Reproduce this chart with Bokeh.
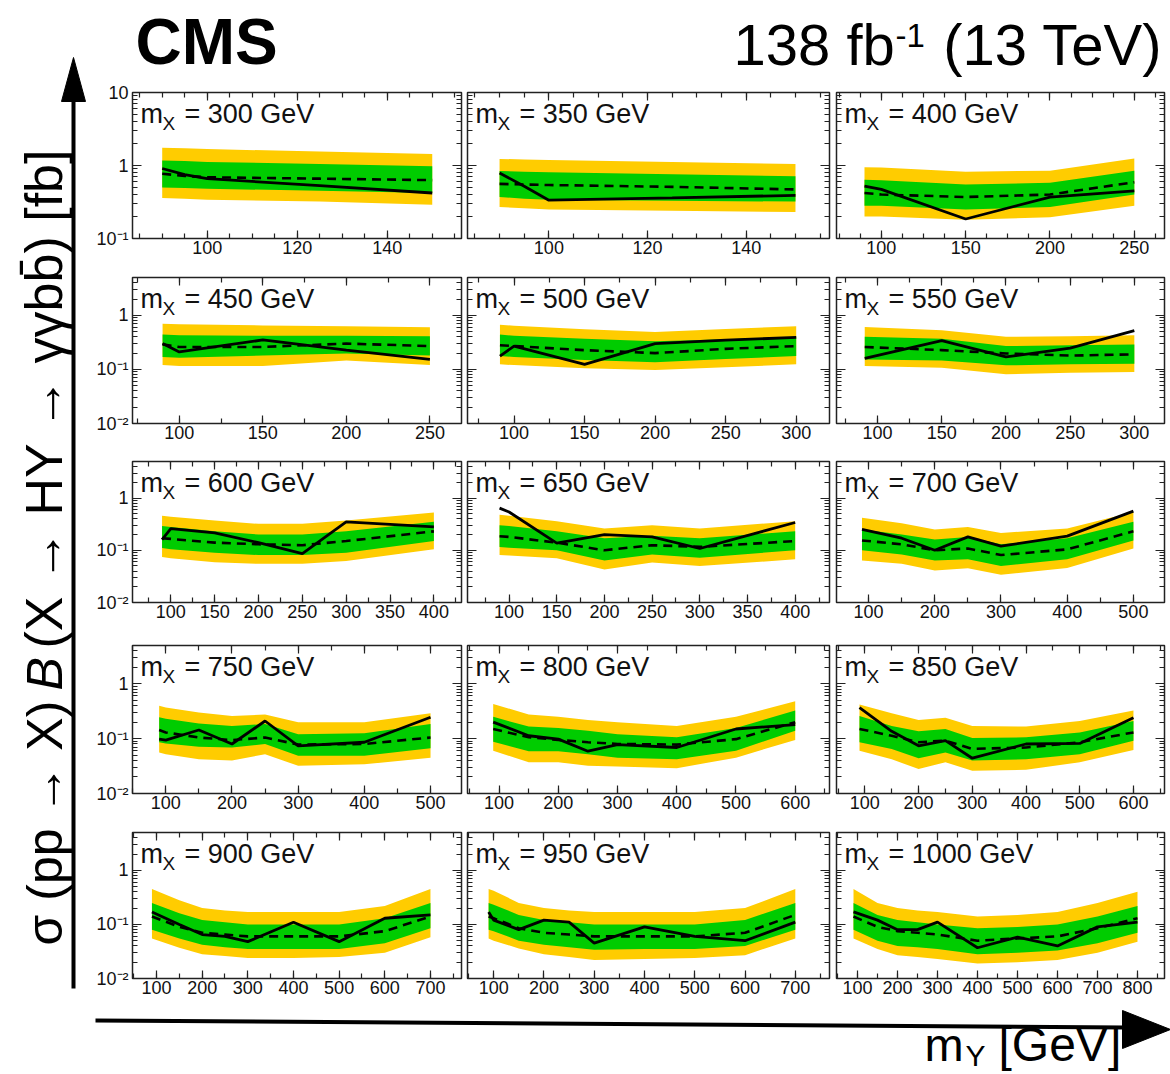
import math
from bokeh.plotting import figure
from bokeh.layouts import row, column
from bokeh.models import Range1d, FixedTicker, LinearAxis, LogAxis
from bokeh.core.properties import value
from bokeh.embed import file_html
from bokeh.resources import INLINE

# ---------------------------------------------------------------------------
# 95% CL upper limits on sigma(pp->X) B(X->HY->gg bb) [fb] versus m_Y [GeV]
# obs: observed, exp: median expected, lo1/hi1: +-1 sigma, lo2/hi2: +-2 sigma
# ---------------------------------------------------------------------------
mx_values = [300, 350, 400, 450, 500, 550, 600, 650, 700, 750, 800, 850, 900, 950, 1000]

my_300 = [90, 95, 100, 125, 150]
obs_300 = [0.91, 0.75, 0.66, 0.53, 0.42]
exp_300 = [0.77, 0.72, 0.69, 0.66, 0.63]
lo1_300 = [0.50, 0.49, 0.48, 0.45, 0.42]
hi1_300 = [1.17, 1.15, 1.12, 1.05, 0.98]
lo2_300 = [0.36, 0.35, 0.34, 0.32, 0.29]
hi2_300 = [1.75, 1.72, 1.68, 1.55, 1.44]

my_350 = [90, 95, 100, 125, 150]
obs_350 = [0.79, 0.52, 0.335, 0.36, 0.39]
exp_350 = [0.56, 0.55, 0.54, 0.51, 0.47]
lo1_350 = [0.37, 0.35, 0.34, 0.33, 0.32]
hi1_350 = [0.84, 0.82, 0.81, 0.76, 0.71]
lo2_350 = [0.27, 0.26, 0.25, 0.24, 0.23]
hi2_350 = [1.23, 1.21, 1.19, 1.12, 1.05]

my_400 = [90, 100, 150, 200, 250]
obs_400 = [0.52, 0.47, 0.185, 0.37, 0.45]
exp_400 = [0.42, 0.40, 0.37, 0.40, 0.59]
lo1_400 = [0.28, 0.28, 0.25, 0.27, 0.40]
hi1_400 = [0.64, 0.63, 0.55, 0.58, 0.85]
lo2_400 = [0.20, 0.20, 0.18, 0.195, 0.28]
hi2_400 = [0.95, 0.94, 0.82, 0.85, 1.25]

my_450 = [90, 100, 150, 200, 250]
obs_450 = [0.30, 0.21, 0.35, 0.227, 0.153]
exp_450 = [0.29, 0.26, 0.26, 0.30, 0.27]
lo1_450 = [0.17, 0.165, 0.18, 0.197, 0.18]
hi1_450 = [0.44, 0.43, 0.42, 0.42, 0.41]
lo2_450 = [0.12, 0.115, 0.115, 0.146, 0.12]
hi2_450 = [0.70, 0.68, 0.65, 0.63, 0.60]

my_500 = [90, 100, 150, 200, 250, 300]
obs_500 = [0.176, 0.27, 0.124, 0.30, 0.347, 0.39]
exp_500 = [0.28, 0.27, 0.227, 0.20, 0.24, 0.27]
lo1_500 = [0.176, 0.17, 0.15, 0.136, 0.155, 0.176]
hi1_500 = [0.44, 0.42, 0.37, 0.33, 0.36, 0.40]
lo2_500 = [0.124, 0.12, 0.105, 0.097, 0.11, 0.124]
hi2_500 = [0.67, 0.64, 0.55, 0.49, 0.56, 0.63]

my_550 = [90, 150, 200, 250, 300]
obs_550 = [0.16, 0.34, 0.17, 0.247, 0.52]
exp_550 = [0.26, 0.227, 0.197, 0.18, 0.19]
lo1_550 = [0.153, 0.146, 0.119, 0.124, 0.127]
hi1_550 = [0.40, 0.37, 0.27, 0.28, 0.29]
lo2_550 = [0.115, 0.107, 0.081, 0.087, 0.09]
hi2_550 = [0.61, 0.53, 0.40, 0.41, 0.43]

my_600 = [90, 100, 150, 200, 250, 300, 400]
obs_600 = [0.16, 0.26, 0.215, 0.14, 0.086, 0.35, 0.28]
exp_600 = [0.17, 0.165, 0.14, 0.13, 0.125, 0.15, 0.23]
lo1_600 = [0.11, 0.105, 0.09, 0.081, 0.081, 0.09, 0.15]
hi1_600 = [0.29, 0.28, 0.23, 0.20, 0.20, 0.23, 0.35]
lo2_600 = [0.074, 0.07, 0.059, 0.055, 0.055, 0.062, 0.104]
hi2_600 = [0.46, 0.44, 0.37, 0.32, 0.32, 0.37, 0.53]

my_650 = [90, 100, 150, 200, 250, 300, 400]
obs_650 = [0.64, 0.54, 0.137, 0.20, 0.18, 0.108, 0.34]
exp_650 = [0.186, 0.18, 0.14, 0.10, 0.125, 0.116, 0.15]
lo1_650 = [0.115, 0.112, 0.10, 0.064, 0.083, 0.072, 0.10]
hi1_650 = [0.30, 0.29, 0.23, 0.17, 0.19, 0.17, 0.23]
lo2_650 = [0.081, 0.079, 0.07, 0.043, 0.058, 0.05, 0.067]
hi2_650 = [0.48, 0.46, 0.36, 0.26, 0.30, 0.26, 0.36]

my_700 = [90, 150, 200, 250, 300, 400, 500]
obs_700 = [0.25, 0.17, 0.10, 0.18, 0.12, 0.186, 0.56]
exp_700 = [0.154, 0.13, 0.10, 0.108, 0.081, 0.104, 0.23]
lo1_700 = [0.10, 0.083, 0.064, 0.067, 0.05, 0.067, 0.154]
hi1_700 = [0.25, 0.20, 0.16, 0.18, 0.13, 0.17, 0.35]
lo2_700 = [0.064, 0.055, 0.041, 0.045, 0.034, 0.046, 0.108]
hi2_700 = [0.42, 0.33, 0.25, 0.28, 0.215, 0.26, 0.54]

my_750 = [90, 100, 150, 200, 250, 300, 400, 500]
obs_750 = [0.098, 0.094, 0.144, 0.08, 0.21, 0.074, 0.086, 0.246]
exp_750 = [0.144, 0.13, 0.105, 0.094, 0.105, 0.078, 0.08, 0.105]
lo1_750 = [0.086, 0.082, 0.071, 0.069, 0.08, 0.049, 0.049, 0.067]
hi1_750 = [0.246, 0.23, 0.19, 0.17, 0.185, 0.12, 0.125, 0.185]
lo2_750 = [0.056, 0.052, 0.042, 0.04, 0.052, 0.032, 0.034, 0.045]
hi2_750 = [0.40, 0.37, 0.30, 0.26, 0.275, 0.20, 0.20, 0.29]

my_800 = [90, 150, 200, 250, 300, 400, 500, 600]
obs_800 = [0.20, 0.113, 0.098, 0.059, 0.078, 0.069, 0.15, 0.18]
exp_800 = [0.15, 0.106, 0.095, 0.086, 0.08, 0.078, 0.098, 0.20]
lo1_800 = [0.088, 0.059, 0.059, 0.052, 0.045, 0.042, 0.06, 0.14]
hi1_800 = [0.25, 0.166, 0.157, 0.14, 0.12, 0.106, 0.157, 0.325]
lo2_800 = [0.06, 0.037, 0.037, 0.032, 0.031, 0.029, 0.045, 0.095]
hi2_800 = [0.43, 0.275, 0.25, 0.22, 0.20, 0.17, 0.25, 0.48]

my_850 = [90, 150, 200, 250, 300, 400, 500, 600]
obs_850 = [0.37, 0.136, 0.074, 0.092, 0.044, 0.08, 0.082, 0.24]
exp_850 = [0.15, 0.113, 0.086, 0.092, 0.065, 0.069, 0.086, 0.13]
lo1_850 = [0.086, 0.065, 0.044, 0.056, 0.04, 0.042, 0.052, 0.092]
hi1_850 = [0.26, 0.17, 0.136, 0.15, 0.103, 0.106, 0.13, 0.21]
lo2_850 = [0.06, 0.042, 0.028, 0.037, 0.026, 0.027, 0.037, 0.062]
hi2_850 = [0.42, 0.29, 0.22, 0.24, 0.17, 0.166, 0.21, 0.325]

my_900 = [90, 150, 200, 250, 300, 400, 500, 600, 700]
obs_900 = [0.17, 0.10, 0.065, 0.06, 0.048, 0.11, 0.048, 0.13, 0.15]
exp_900 = [0.14, 0.09, 0.07, 0.065, 0.06, 0.06, 0.06, 0.075, 0.14]
lo1_900 = [0.08, 0.055, 0.042, 0.038, 0.035, 0.035, 0.035, 0.045, 0.085]
hi1_900 = [0.25, 0.16, 0.12, 0.11, 0.10, 0.10, 0.10, 0.13, 0.25]
lo2_900 = [0.055, 0.037, 0.028, 0.026, 0.024, 0.024, 0.025, 0.03, 0.058]
hi2_900 = [0.45, 0.28, 0.20, 0.18, 0.17, 0.17, 0.17, 0.22, 0.45]

my_950 = [90, 100, 150, 200, 250, 300, 400, 500, 600, 700]
obs_950 = [0.17, 0.12, 0.08, 0.12, 0.11, 0.045, 0.09, 0.06, 0.05, 0.11]
exp_950 = [0.14, 0.13, 0.085, 0.07, 0.065, 0.06, 0.06, 0.06, 0.07, 0.15]
lo1_950 = [0.08, 0.075, 0.05, 0.042, 0.038, 0.034, 0.035, 0.035, 0.04, 0.08]
hi1_950 = [0.25, 0.23, 0.15, 0.12, 0.11, 0.10, 0.10, 0.10, 0.12, 0.25]
lo2_950 = [0.055, 0.05, 0.036, 0.028, 0.025, 0.022, 0.023, 0.024, 0.027, 0.055]
hi2_950 = [0.45, 0.42, 0.25, 0.20, 0.18, 0.17, 0.17, 0.17, 0.20, 0.45]

my_1000 = [90, 150, 200, 250, 300, 400, 500, 600, 700, 800]
obs_1000 = [0.17, 0.12, 0.08, 0.08, 0.11, 0.037, 0.058, 0.04, 0.09, 0.11]
exp_1000 = [0.14, 0.09, 0.075, 0.07, 0.065, 0.05, 0.055, 0.06, 0.085, 0.13]
lo1_1000 = [0.08, 0.05, 0.04, 0.038, 0.035, 0.028, 0.03, 0.033, 0.045, 0.07]
hi1_1000 = [0.25, 0.15, 0.12, 0.11, 0.10, 0.085, 0.09, 0.10, 0.14, 0.22]
lo2_1000 = [0.055, 0.035, 0.027, 0.025, 0.023, 0.019, 0.02, 0.022, 0.03, 0.048]
hi2_1000 = [0.45, 0.25, 0.20, 0.18, 0.17, 0.14, 0.15, 0.17, 0.25, 0.40]

# m_Y axis range and tick spacing (major, minor) of every panel
x_lo = [83.4, 83.5, 73.4, 72.0, 67.0, 68.0, 56.3, 56.4, 51.5, 49.7, 46.6, 47.2, 47.4, 48.0, 47.5]
x_hi = [156.5, 156.9, 267.9, 268.9, 323.6, 323.5, 431.5, 436.0, 547.0, 546.8, 657.9, 657.8, 768.0, 768.0, 867.5]
x_major = [20, 20, 50, 50, 50, 50, 50, 50, 100, 100, 100, 100, 100, 100, 100]
x_minor = [5, 5, 12.5, 25, 25, 25, 25, 25, 50, 50, 50, 50, 50, 50, 50]

# ---------------------------------------------------------------------------
FONT = "Liberation Sans"
GREEN = "#00cc00"
YELLOW = "#ffcc00"
INK = "#111111"
FRAME = "#222222"
LIFT = 0.36  # alphabetic-baseline correction, in units of the font size

LEFT_W = 86
HEADER_H = 80
BOTTOM_H = 70
COL_FRAME_W = [329, 362, 328]
COL_BORDER_L = [46, 3, 4]
COL_BORDER_R = [3, 3, 6]
ROW_FRAME_H = [146, 146, 141, 148, 146]
ROW_BORDER_T = [12, 9, 8, 8, 9]
ROW_BORDER_B = [30, 30, 35, 30, 26]

SUP = str.maketrans("-0123456789", "\u207b\u2070\u00b9\u00b2\u00b3\u2074\u2075\u2076\u2077\u2078\u2079")


def decade_label(e):
    if e == 0:
        return "1"
    if e == 1:
        return "10"
    return "10" + str(e).translate(SUP)


def multiples(step, lo, hi):
    k0 = math.ceil(lo / step - 1e-9)
    k1 = math.floor(hi / step + 1e-9)
    return [round(k * step, 6) for k in range(k0, k1 + 1)]


def style_axis(ax, tick_in, minor_in, standoff=0):
    ax.axis_line_color = None
    ax.major_tick_in = tick_in
    ax.major_tick_out = 0
    ax.minor_tick_in = minor_in
    ax.minor_tick_out = 0
    ax.major_tick_line_color = FRAME
    ax.minor_tick_line_color = FRAME
    ax.major_tick_line_width = 1.2
    ax.minor_tick_line_width = 1.2
    ax.major_label_standoff = standoff
    ax.major_label_text_font = FONT
    ax.major_label_text_font_size = "18px"
    ax.major_label_text_color = INK


def panel(k, r, c):
    mx = mx_values[k]
    my = globals()[f"my_{mx}"]
    obs = globals()[f"obs_{mx}"]
    exp = globals()[f"exp_{mx}"]
    lo1 = globals()[f"lo1_{mx}"]
    hi1 = globals()[f"hi1_{mx}"]
    lo2 = globals()[f"lo2_{mx}"]
    hi2 = globals()[f"hi2_{mx}"]

    fw, fh = COL_FRAME_W[c], ROW_FRAME_H[r]
    x0, x1 = x_lo[k], x_hi[k]
    y0, y1 = (0.1, 10.0) if r == 0 else (0.01, 5.0)

    p = figure(x_range=Range1d(x0, x1), y_range=Range1d(y0, y1), y_axis_type="log",
               frame_width=fw, frame_height=fh,
               min_border_left=COL_BORDER_L[c], min_border_right=COL_BORDER_R[c],
               min_border_top=ROW_BORDER_T[r], min_border_bottom=ROW_BORDER_B[r],
               output_backend="svg", toolbar_location=None,
               background_fill_color="white", border_fill_color=None)
    p.grid.visible = False
    p.outline_line_color = FRAME
    p.outline_line_width = 1.5

    # tickers
    xmaj = multiples(x_major[k], x0, x1)
    xmin = multiples(x_minor[k], x0, x1)
    xt = FixedTicker(ticks=xmaj, minor_ticks=xmin)
    e0 = math.floor(math.log10(y0) + 1e-9)
    e1 = math.floor(math.log10(y1) + 1e-9)
    ymaj = [10.0 ** e for e in range(e0, e1 + 1)]
    ymin = [m * 10.0 ** e for e in range(e0, e1 + 1) for m in range(2, 10) if m * 10.0 ** e <= y1]
    yt = FixedTicker(ticks=ymaj, minor_ticks=ymin)

    bx = p.xaxis[0]
    bx.ticker = xt
    style_axis(bx, 8, 5, standoff=2)
    bx.major_label_overrides = {t: (str(int(t)) if float(t).is_integer() else str(t)) for t in xmaj}

    ly = p.yaxis[0]
    ly.ticker = yt
    style_axis(ly, 9, 5, standoff=4)
    if c == 0:
        ly.major_label_overrides = {t: decade_label(e) for t, e in zip(ymaj, range(e0, e1 + 1))}
    else:
        ly.major_label_overrides = {t: "" for t in ymaj}

    tx = LinearAxis(ticker=xt)
    style_axis(tx, 8, 5)
    tx.major_label_overrides = {t: "" for t in xmaj}
    tx.major_label_text_font_size = "0px"
    p.add_layout(tx, "above")

    ry = LogAxis(ticker=yt)
    style_axis(ry, 9, 5)
    ry.major_label_overrides = {t: "" for t in ymaj}
    ry.major_label_text_font_size = "0px"
    p.add_layout(ry, "right")

    # bands and limits
    p.varea(x=my, y1=lo2, y2=hi2, fill_color=YELLOW)
    p.varea(x=my, y1=lo1, y2=hi1, fill_color=GREEN)
    p.line(my, exp, line_color="black", line_width=2.6, line_dash="9 6")
    p.line(my, obs, line_color="black", line_width=2.8)

    # panel title, positioned in pixels from the frame's top-left corner
    ly0, ly1 = math.log10(y0), math.log10(y1)

    def px(xp):
        return x0 + xp / fw * (x1 - x0)

    def py(yp):
        return 10.0 ** (ly1 - yp / fh * (ly1 - ly0))

    common = dict(text_font=value(FONT), text_color=INK, text_baseline="alphabetic", text_align="left")
    p.text(x=[px(8)], y=[py(31 - LIFT * 27)], text=["m"], text_font_size="27px", **common)
    p.text(x=[px(30)], y=[py(38 - LIFT * 19)], text=["X"], text_font_size="19px", **common)
    p.text(x=[px(52)], y=[py(31 - LIFT * 27)], text=[f"= {mx} GeV"], text_font_size="27px", **common)
    return p


def blank(x_start, x_end, y_top, y_bottom):
    # a plain canvas whose data coordinates are page pixels (y negated)
    f = figure(x_range=Range1d(x_start, x_end), y_range=Range1d(-y_bottom, -y_top),
               frame_width=int(x_end - x_start), frame_height=int(y_bottom - y_top),
               min_border=0, x_axis_location=None, y_axis_location=None,
               output_backend="svg", toolbar_location=None,
               background_fill_color="white", border_fill_color="white")
    f.grid.visible = False
    f.outline_line_color = None
    return f


def put(fig, x, baseline, text, size, **kw):
    # draw a text whose alphabetic baseline sits at page row `baseline`
    fig.text(x=[x], y=[-(baseline - LIFT * size)], text=[text], text_font=value(FONT),
             text_font_size=f"{size}px", text_color="black", text_baseline="alphabetic", **kw)


# header: experiment and luminosity
GRID_H = sum(t + h + b for t, h, b in zip(ROW_BORDER_T, ROW_FRAME_H, ROW_BORDER_B))
header = blank(LEFT_W, 1170, 0, HEADER_H)
put(header, 135, 65, "CMS", 64, text_font_style="bold")
put(header, 733, 65, "138 fb", 58)
put(header, 895, 47, "-1", 33)
put(header, 1162, 65, "(13 TeV)", 58, text_align="right")

# left strip: vertical arrow with the cross-section title
left = blank(0, LEFT_W, 0, HEADER_H + GRID_H)
left.line(x=[73, 73], y=[-988, -95], line_color="black", line_width=4)
left.patch(x=[73, 61, 85], y=[-57, -101, -101], fill_color="black", line_color="black")


def put_vertical(y_start, text, size, **kw):
    # rotated text reading bottom-to-top, baseline on page column 62
    left.text(x=[62 - LIFT * size], y=[-y_start], text=[text], text_font=value(FONT),
              text_font_size=f"{size}px", text_color="black", text_baseline="alphabetic",
              text_align="left", angle=math.pi / 2, **kw)


put_vertical(945, "\u03c3 (pp \u2192 X)", 50)
put_vertical(690, "B", 50, text_font_style="italic")
put_vertical(648, " (X \u2192 HY \u2192 \u03b3\u03b3bb\u0304) [fb]", 52)

# bottom strip: horizontal arrow with the m_Y title
page_h = HEADER_H + GRID_H + BOTTOM_H
bottom = blank(0, 1170, HEADER_H + GRID_H, page_h)
bottom.line(x=[95, 1125], y=[-1020, -1027], line_color="black", line_width=4)
bottom.patch(x=[1170, 1122, 1122], y=[-1029, -1010, -1048], fill_color="black", line_color="black")
put(bottom, 924, 1061, "m", 47)
put(bottom, 965, 1066, "Y", 30)
put(bottom, 998, 1061, "[GeV]", 48)

rows = []
for r in range(5):
    rows.append(row(*[panel(3 * r + c, r, c) for c in range(3)], spacing=0))
grid = column(*rows, spacing=0)
layout = column(row(left, column(header, grid, spacing=0), spacing=0), bottom, spacing=0)

open("out.html", "w").write(file_html(layout, INLINE, title="Upper limits X -> HY"))
